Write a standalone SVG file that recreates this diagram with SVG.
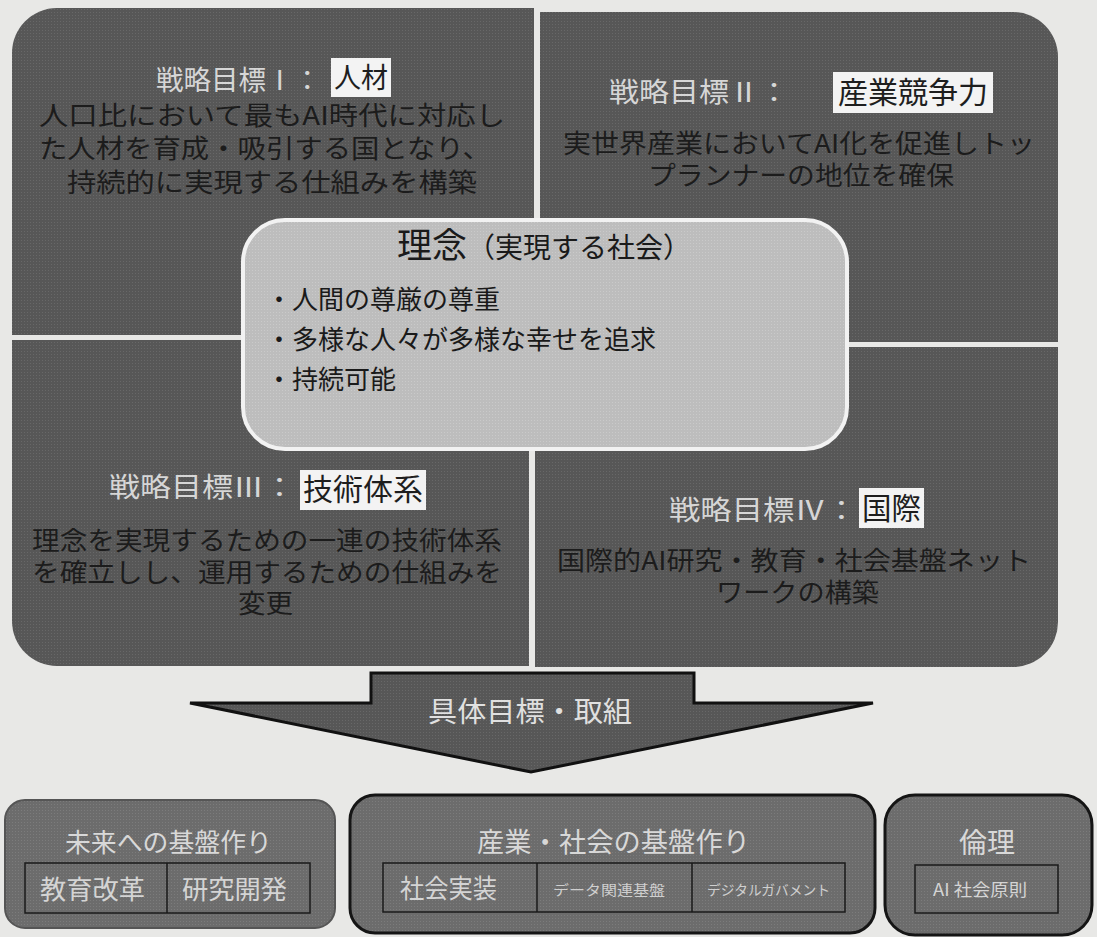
<svg xmlns="http://www.w3.org/2000/svg" width="1097" height="937" viewBox="0 0 1097 937">
<defs>
<pattern id="scr" width="3" height="3" patternUnits="userSpaceOnUse">
<rect width="3" height="3" fill="#575757"/>
<rect width="1" height="1" fill="#686868"/>
</pattern>
<pattern id="scrL" width="3" height="3" patternUnits="userSpaceOnUse">
<rect width="3" height="3" fill="#bdbdbd"/>
<rect width="1" height="1" fill="#cacaca"/>
</pattern>
<pattern id="scrB" width="3" height="3" patternUnits="userSpaceOnUse">
<rect width="3" height="3" fill="#6c6c6c"/>
<rect width="1" height="1" fill="#7c7c7c"/>
</pattern>
<style>
text{font-family:"Noto Sans CJK JP","Noto Sans",sans-serif;}
.quad{fill:url(#scr);}
.ttl{fill:#d6d6d6;font-size:27px;}
.hl{fill:#f3f3f3;}
.hlt{fill:#1e1e1e;font-size:30px;}
.body{fill:#1c1c1c;font-size:26px;}
.bul{fill:#1a1a1a;font-size:26px;}
.bbox{fill:url(#scrB);stroke:#151515;stroke-width:3;}
.btl{fill:#d8d8d8;font-size:26px;}
.cell{fill:none;stroke:#1a1a1a;stroke-width:1.5;}
.ct{fill:#d4d4d4;font-size:26px;}
.cs{fill:#cfcfcf;font-size:14px;}
</style>
</defs>
<rect x="0" y="0" width="1097" height="937" fill="#e8e8e6"/>

<g id="goal1">
<path class="quad" d="M12,53 A45,45 0 0 1 57,8 L534,8 L534,335 L12,335 Z"/>
<text class="ttl" x="156" y="90" textLength="165" lengthAdjust="spacingAndGlyphs">戦略目標Ⅰ：</text>
<rect class="hl" x="331" y="58" width="60" height="39"/>
<text class="hlt" x="334" y="88" style="font-size:28px" textLength="54" lengthAdjust="spacingAndGlyphs">人材</text>
<text class="body" x="39" y="125" textLength="466" lengthAdjust="spacingAndGlyphs">人口比において最もAI時代に対応し</text>
<text class="body" x="39" y="158" textLength="452" lengthAdjust="spacingAndGlyphs">た人材を育成・吸引する国となり、</text>
<text class="body" x="67" y="192" textLength="410" lengthAdjust="spacingAndGlyphs">持続的に実現する仕組みを構築</text>
</g>

<g id="goal2">
<path class="quad" d="M540,12 L1013,12 A45,45 0 0 1 1058,57 L1058,342 L540,342 Z"/>
<text class="ttl" x="609" y="102" textLength="180" lengthAdjust="spacingAndGlyphs">戦略目標Ⅱ：</text>
<rect class="hl" x="833" y="72" width="160" height="41"/>
<text class="hlt" x="838" y="103" textLength="150" lengthAdjust="spacingAndGlyphs">産業競争力</text>
<text class="body" x="563" y="153" textLength="472" lengthAdjust="spacingAndGlyphs">実世界産業においてAI化を促進しトッ</text>
<text class="body" x="648" y="185" textLength="306" lengthAdjust="spacingAndGlyphs">プランナーの地位を確保</text>
</g>

<g id="goal3">
<path class="quad" d="M12,340 L529,340 L529,666 L57,666 A45,45 0 0 1 12,621 Z"/>
<text class="ttl" x="109" y="497" textLength="186" lengthAdjust="spacingAndGlyphs">戦略目標Ⅲ：</text>
<rect class="hl" x="300" y="470" width="126" height="40"/>
<text class="hlt" x="303" y="500" textLength="120" lengthAdjust="spacingAndGlyphs">技術体系</text>
<text class="body" x="32" y="550" textLength="470" lengthAdjust="spacingAndGlyphs">理念を実現するための一連の技術体系</text>
<text class="body" x="32" y="582" textLength="470" lengthAdjust="spacingAndGlyphs">を確立しし、運用するための仕組みを</text>
<text class="body" x="238" y="613" textLength="55" lengthAdjust="spacingAndGlyphs">変更</text>
</g>

<g id="goal4">
<path class="quad" d="M535,347 L1058,347 L1058,622 A45,45 0 0 1 1013,667 L535,667 Z"/>
<text class="ttl" x="669" y="520" textLength="188" lengthAdjust="spacingAndGlyphs">戦略目標Ⅳ：</text>
<rect class="hl" x="859" y="488" width="65" height="40"/>
<text class="hlt" x="862" y="519" textLength="59" lengthAdjust="spacingAndGlyphs">国際</text>
<text class="body" x="557" y="570" textLength="474" lengthAdjust="spacingAndGlyphs">国際的AI研究・教育・社会基盤ネット</text>
<text class="body" x="716" y="602" textLength="163" lengthAdjust="spacingAndGlyphs">ワークの構築</text>
</g>

<g id="philosophy">
<rect x="243" y="220" width="604" height="229" rx="42" ry="42" fill="url(#scrL)" stroke="#f2f2f2" stroke-width="4"/>
<text x="397" y="258" fill="#1a1a1a" style="font-size:35px">理念<tspan style="font-size:28px">（実現する社会）</tspan></text>
<text class="bul" x="266" y="309">・人間の尊厳の尊重</text>
<text class="bul" x="266" y="349">・多様な人々が多様な幸せを追求</text>
<text class="bul" x="266" y="389">・持続可能</text>
</g>

<g id="connectors">
<polygon points="371,673 694,673 694,703 873,703 531,772 190,703 371,703" fill="url(#scr)" stroke="#111" stroke-width="3" stroke-linejoin="miter"/>
<text x="428" y="722" fill="#e0e0e0" style="font-size:28px" textLength="204" lengthAdjust="spacingAndGlyphs">具体目標・取組</text>
</g>

<g id="future">
<rect x="5" y="800" width="330" height="128" rx="20" ry="20" fill="url(#scrB)" stroke="#555" stroke-width="2"/>
<text class="btl" x="65" y="852" textLength="207" lengthAdjust="spacingAndGlyphs">未来への基盤作り</text>
<rect class="cell" x="25" y="863" width="285" height="50"/>
<line class="cell" x1="167" y1="863" x2="167" y2="913"/>
<text class="ct" x="40" y="899" textLength="105" lengthAdjust="spacingAndGlyphs">教育改革</text>
<text class="ct" x="182" y="899" textLength="105" lengthAdjust="spacingAndGlyphs">研究開発</text>
</g>

<g id="industry">
<rect class="bbox" x="350" y="795" width="525" height="138" rx="25" ry="25"/>
<text class="btl" x="477" y="852" style="font-size:27px" textLength="273" lengthAdjust="spacingAndGlyphs">産業・社会の基盤作り</text>
<rect class="cell" x="383" y="863" width="462" height="49"/>
<line class="cell" x1="537" y1="863" x2="537" y2="912"/>
<line class="cell" x1="692" y1="863" x2="692" y2="912"/>
<text class="ct" x="400" y="898" textLength="97" lengthAdjust="spacingAndGlyphs">社会実装</text>
<text class="cs" x="553" y="895" textLength="112" lengthAdjust="spacingAndGlyphs">データ関連基盤</text>
<text class="cs" x="707" y="895" textLength="123" lengthAdjust="spacingAndGlyphs">デジタルガバメント</text>
</g>

<g id="ethics">
<rect class="bbox" x="885" y="795" width="207" height="140" rx="30" ry="30"/>
<text class="btl" x="959" y="853" style="font-size:28px" textLength="56" lengthAdjust="spacingAndGlyphs">倫理</text>
<rect class="cell" x="915" y="865" width="143" height="48"/>
<text class="ct" x="933" y="896" style="font-size:17px" textLength="94" lengthAdjust="spacingAndGlyphs">AI 社会原則</text>
</g>
</svg>
